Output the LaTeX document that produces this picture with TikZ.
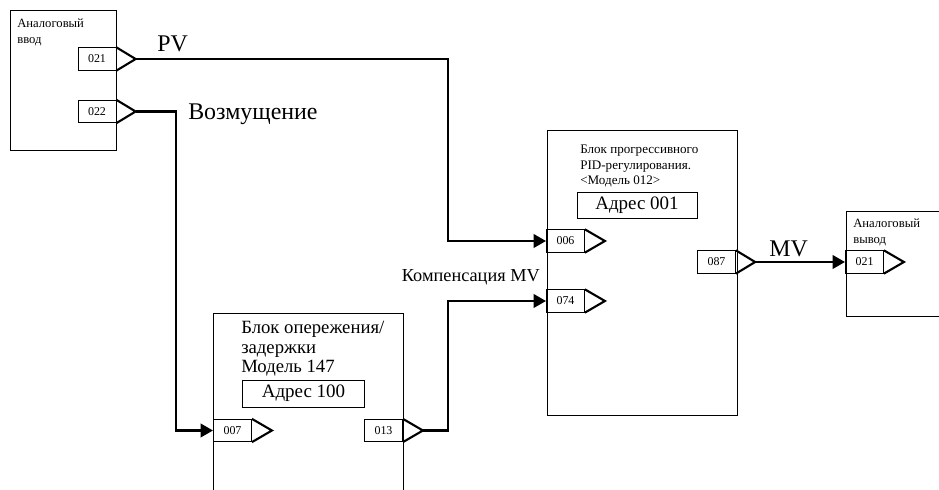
\documentclass[tikz,border=0pt]{standalone}
\usepackage{fontspec}
\setmainfont{Liberation Serif}
\usetikzlibrary{positioning,arrows.meta}

\begin{document}
\begin{tikzpicture}[x=0.025cm, y=-0.025cm,
  blk/.style={draw, line width=0.7pt, anchor=north west, inner sep=0pt},
  port/.style={draw, line width=0.6pt, minimum width=0.95cm, minimum height=0.56cm,
               inner sep=0pt, font=\fontsize{8.5}{10}\selectfont},
  addr/.style={draw, line width=0.7pt, inner sep=0pt,
               font=\fontsize{13.5}{15}\selectfont},
  tri/.style={line width=1.5pt},
  wire/.style={line width=2.1pt, -{Triangle[length=3.1mm, width=3.3mm]}},
  small/.style={anchor=north west, inner sep=0pt, align=left,
                font=\fontsize{9}{11.3}\selectfont},
  big/.style={inner sep=0pt, font=\fontsize{17}{20}\selectfont},
  ]
  \useasboundingbox (0,0) rectangle (939,490);
  \clip (0,0) rectangle (939,490);

  % analog input
  \node[blk, minimum width=2.65cm, minimum height=3.5cm] (ai) at (10,10) {};
  \node[small] (aitxt) at (17,19) {Аналоговый\\ввод};
  \node[port] (p021) at (97,59) {021};
  \draw[tri] (p021.north east) -- ([xshift=0.48cm]p021.east) coordinate (o021) -- (p021.south east);
  \node[port] (p022) at (97,111.5) {022};
  \draw[tri] (p022.north east) -- ([xshift=0.48cm]p022.east) coordinate (o022) -- (p022.south east);

  % PID block
  \node[blk, minimum width=4.75cm, minimum height=7.125cm] (pid) at (547,130) {};
  \node[small, font=\fontsize{9.3}{10.8}\selectfont] (pidtxt) at (580,145)
    {Блок прогрессивного\\PID-регулирования.\\<Модель 012>};
  \node[addr, minimum width=3.0cm, minimum height=0.64cm] (a001) at (637,205.5) {Адрес 001};
  \node[port] (i006) at (565.5,241) {006};
  \draw[tri] (i006.north east) -- ([xshift=0.5cm]i006.east) -- (i006.south east);
  \node[port] (i074) at (565.5,301) {074};
  \draw[tri] (i074.north east) -- ([xshift=0.5cm]i074.east) -- (i074.south east);
  \node[port] (p087) at (716.5,262) {087};
  \draw[tri] (p087.north east) -- ([xshift=0.48cm]p087.east) coordinate (o087) -- (p087.south east);

  % analog output
  \node[blk, minimum width=2.85cm, minimum height=2.625cm] (ao) at (846,211) {};
  \node[small] (aotxt) at (853,219) {Аналоговый\\вывод};
  \node[port] (r021) at (864.5,262) {021};
  \draw[tri] (r021.north east) -- ([xshift=0.5cm]r021.east) -- (r021.south east);

  % lead/lag block
  \node[blk, minimum width=4.75cm, minimum height=4.75cm] (ll) at (213,313) {};
  \node[small, font=\fontsize{13.3}{13.8}\selectfont] (lltxt) at (241,321)
    {Блок опережения/\\задержки\\Модель 147};
  \node[addr, minimum width=3.025cm, minimum height=0.675cm] (a100) at (303.5,393.5) {Адрес 100};
  \node[port] (i007) at (232.5,430.5) {007};
  \draw[tri] (i007.north east) -- ([xshift=0.5cm]i007.east) -- (i007.south east);
  \node[port] (p013) at (383.5,430.5) {013};
  \draw[tri] (p013.north east) -- ([xshift=0.5cm]p013.east) coordinate (o013) -- (p013.south east);

  % connections
  \coordinate (jpv) at (448,150);
  \coordinate (jdist) at (176,300);
  \coordinate (jcomp) at (448,360);
  \draw[wire] (o021) -| (jpv) |- (i006.west);
  \draw[wire] (o022) -| (jdist) |- (i007.west);
  \draw[wire] (o013) -| (jcomp) |- (i074.west);
  \draw[wire] (o087) -- (r021.west);

  \node[big, anchor=base west] (lpv) at (157,52) {PV};
  \node[big, anchor=base west] (ldist) at (188,120) {Возмущение};
  \node[big, anchor=base west] (lmv) at (769,257) {MV};
  \node[inner sep=0pt, anchor=base east, font=\fontsize{13}{15}\selectfont] (lcomp) at (540,282) {Компенсация MV};
\end{tikzpicture}
\end{document}
